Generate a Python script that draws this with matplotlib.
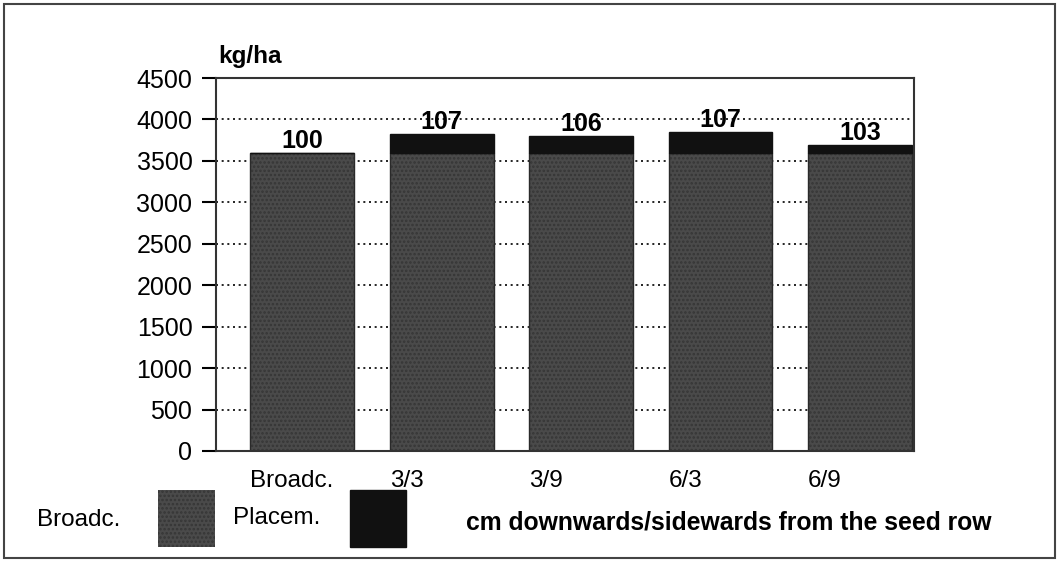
#!/usr/bin/env python3

import matplotlib
matplotlib.use("Agg")
from matplotlib import pyplot as plt
from matplotlib.patches import Rectangle

categories = ["Broadc.", "3/3", "3/9", "6/3", "6/9"]
broadc_yield = [3590, 3590, 3590, 3590, 3590]
total_yield = [3590, 3830, 3805, 3850, 3690]
relative = ["100", "107", "106", "107", "103"]

placem_extra = [t - b for t, b in zip(total_yield, broadc_yield)]


def main():
    plt.rcParams["font.family"] = ["Liberation Sans", "DejaVu Sans"]
    plt.rcParams["hatch.linewidth"] = 1.2

    fig = plt.figure(figsize=(10.58, 5.62), dpi=100)
    ax = fig.add_axes([216 / 1058, 1 - 451 / 562, 698 / 1058, 373 / 562])

    x = list(range(len(categories)))
    width = 0.745

    ax.set_axisbelow(True)
    ax.yaxis.grid(True, linestyle=(0, (1.2, 2.2)), color="black", linewidth=1.2)

    ax.bar(x, broadc_yield, width, color="#4a4a4a", edgecolor="#363636",
           hatch="....", linewidth=0)
    ax.bar(x, broadc_yield, width, fill=False, edgecolor="#2a2a2a", linewidth=1)
    ax.bar(x, placem_extra, width, bottom=broadc_yield, color="#111111",
           edgecolor="#111111", linewidth=1)

    for xi, top, lab in zip(x, total_yield, relative):
        ax.annotate(lab, (xi, top), xytext=(0, 0), textcoords="offset points",
                    ha="center", va="bottom", fontsize=18, fontweight="bold")

    ax.set_ylim(0, 4500)
    ax.set_yticks(range(0, 4501, 500))
    ax.set_xlim(-0.617, 4.387)
    ax.set_xticks([xi - width / 2 for xi in x])
    ax.set_xticklabels(categories, ha="left")
    ax.tick_params(axis="x", length=0, pad=14, labelsize=17.5)
    ax.tick_params(axis="y", direction="out", length=10, width=1.5,
                   labelsize=18, pad=7)
    for s in ax.spines.values():
        s.set_linewidth(1.5)
        s.set_color("#333333")

    fig.text(218 / 1058, 1 - 57 / 562, "kg/ha", fontsize=17.5,
             fontweight="bold", ha="left", va="center")

    # legend row
    fig.text(37 / 1058, 1 - 520 / 562, "Broadc.", fontsize=17.5, va="center")
    fig.patches.append(Rectangle((158 / 1058, 1 - 547 / 562), 57 / 1058, 57 / 562,
                                 transform=fig.transFigure, facecolor="#4a4a4a",
                                 edgecolor="#363636", hatch="....", linewidth=0))
    fig.text(233 / 1058, 1 - 518 / 562, "Placem.", fontsize=17.5, va="center")
    fig.patches.append(Rectangle((350 / 1058, 1 - 547 / 562), 56 / 1058, 57 / 562,
                                 transform=fig.transFigure, facecolor="#111111",
                                 edgecolor="#111111"))
    fig.text(466 / 1058, 1 - 523 / 562, "cm downwards/sidewards from the seed row",
             fontsize=17.8, fontweight="bold", va="center")

    # outer frame
    fig.patches.append(Rectangle((4 / 1058, 4 / 562), 1051 / 1058, 554 / 562,
                                 transform=fig.transFigure, fill=False,
                                 edgecolor="#444444", linewidth=1.5))

    fig.savefig("out.png", dpi=100)


if __name__ == '__main__':
    main()
